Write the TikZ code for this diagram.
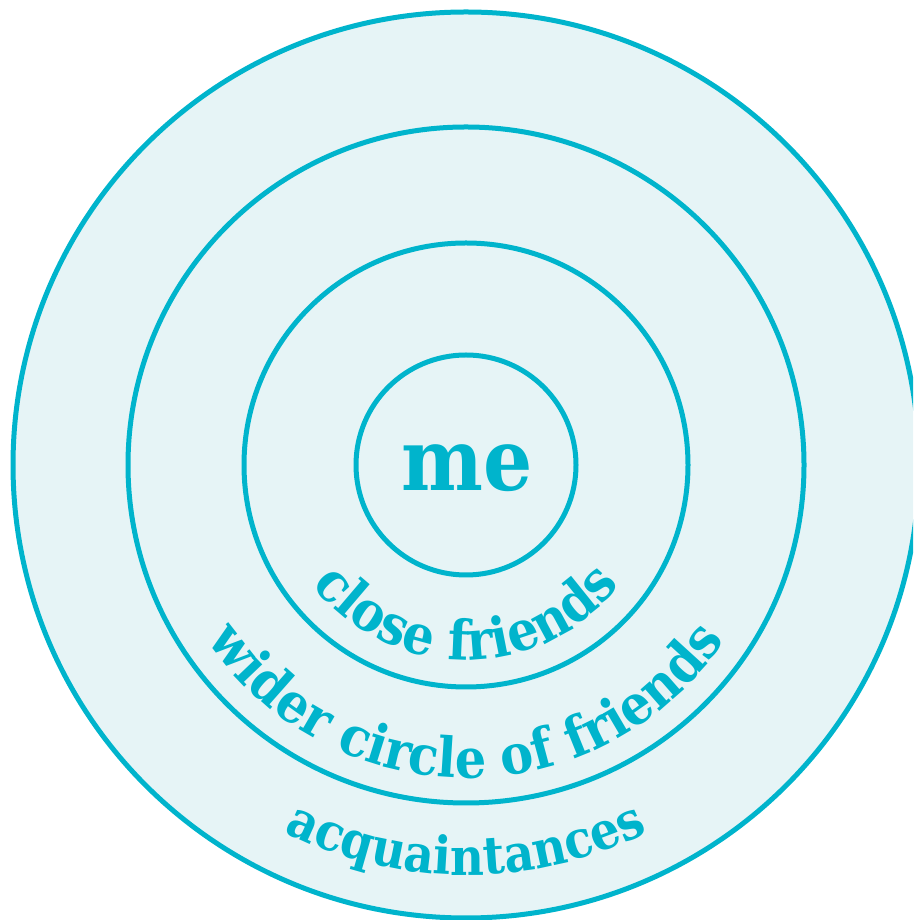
\documentclass[tikz,border=0pt]{standalone}
\usepackage{fontspec}
\setmainfont{DejaVu Serif Condensed}[BoldFont={DejaVu Serif Condensed Bold}]
\usetikzlibrary{decorations.text}
\definecolor{ring}{HTML}{00B4CC}
\definecolor{ringfill}{HTML}{E6F4F6}
\tikzset{
  ringline/.style={draw=ring, line width=5pt},
}
\begin{document}
\begin{tikzpicture}[x=1pt,y=1pt]
\useasboundingbox (0,0) rectangle (913,920);
\coordinate (c) at (466,455);
\begin{scope}
\clip (0,0) rectangle (913,920);
\path[ringline, fill=ringfill] (c) circle[radius=453];
\end{scope}
\path[ringline] (c) circle[radius=338];
\path[ringline] (c) circle[radius=222];
\path[ringline] (c) circle[radius=110];
\node[text=ring, font=\fontsize{86}{95}\selectfont\bfseries, inner sep=0pt] (me) at (467,452) {me};
\path[decorate, decoration={text along path, text align=center, text color=ring,
  text={|\fontsize{55}{55}\selectfont\bfseries|close friends}}]
  ([shift={(200:195)}]c) arc[start angle=200, end angle=340, radius=195];
\path[decorate, decoration={text along path, text align=center, text color=ring,
  text={|\fontsize{55}{55}\selectfont\bfseries|wider circle of friends}}]
  ([shift={(200:313)}]c) arc[start angle=200, end angle=340, radius=313];
\path[decorate, decoration={text along path, text align=center, text color=ring,
  text={|\fontsize{52}{52}\selectfont\bfseries|acquaintances}}]
  ([shift={(220:410)}]c) arc[start angle=220, end angle=320, radius=410];
\end{tikzpicture}
\end{document}
